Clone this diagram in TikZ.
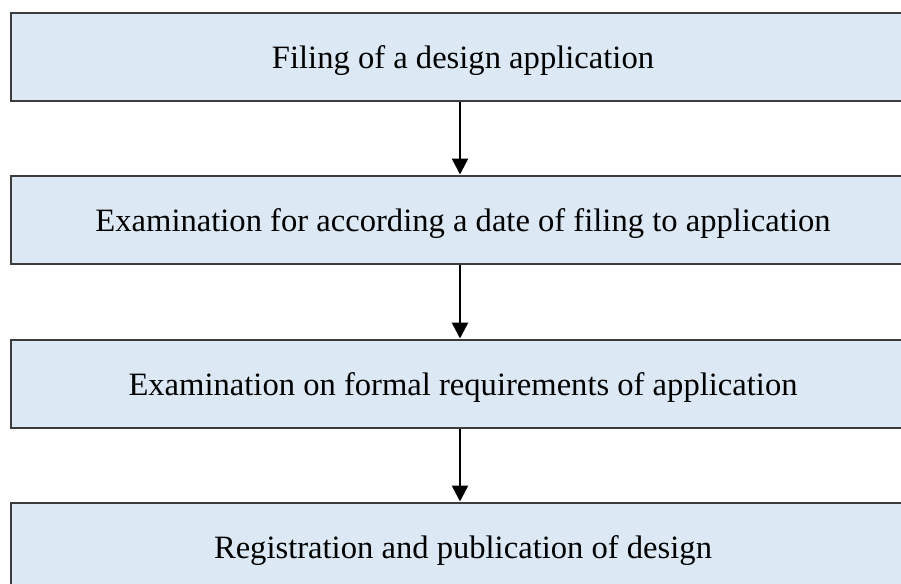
\documentclass[tikz,border=0pt]{standalone}
\usepackage{fontspec}
\setmainfont{Liberation Serif}
\usetikzlibrary{arrows.meta}
\definecolor{boxfill}{HTML}{DDE8F5}
\definecolor{boxline}{HTML}{3C3C3C}
\begin{document}
\begin{tikzpicture}[x=1pt,y=-1pt,
  stagebox/.style={draw=boxline, line width=2pt, fill=boxfill,
    minimum width=904pt, minimum height=88pt, inner sep=0pt,
    text height=24pt, text depth=0pt,
    font=\fontsize{32.6}{38}\selectfont},
  flow/.style={line width=2.6pt, -{Triangle[length=16pt,width=16pt]}}]
  \useasboundingbox (0,0) rectangle (901,583);
  \clip (0,0) rectangle (901,583);
  \node[stagebox] (filing) at (463,57) {Filing of a design application};
  \node[stagebox] (datecheck) at (463,219.5) {Examination for according a date of filing to application};
  \node[stagebox] (formal) at (463,383.5) {Examination on formal requirements of application};
  \node[stagebox] (register) at (463,546.5) {Registration and publication of design};
  \draw[flow] (filing.south -| 460,0) -- (datecheck.north -| 460,0);
  \draw[flow] (datecheck.south -| 460,0) -- (formal.north -| 460,0);
  \draw[flow] (formal.south -| 460,0) -- (register.north -| 460,0);
\end{tikzpicture}
\end{document}
